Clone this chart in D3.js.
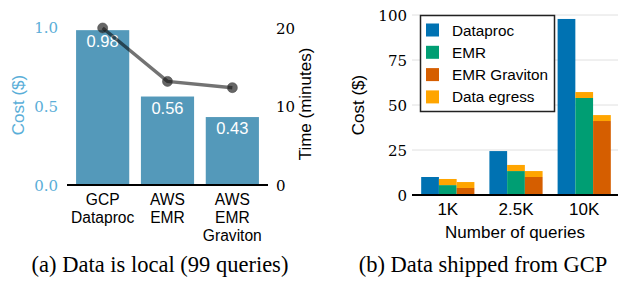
<!DOCTYPE html>
<html>
<head>
<meta charset="utf-8">
<script src="https://cdn.jsdelivr.net/npm/d3@7"></script>
<style>
  body { margin: 0; background: #fff; }
  svg { display: block; }
  .sans { font-family: "Liberation Sans", Arial, sans-serif; }
  .serif { font-family: "Liberation Serif", "Times New Roman", serif; }
  .num { font-family: "DejaVu Serif", serif; }
</style>
</head>
<body>
<div id="chart"></div>
<script>
// (a) data is local
var platforms = [["GCP", "Dataproc"], ["AWS", "EMR"], ["AWS", "EMR", "Graviton"]];
var platformKeys = ["gcp", "emr", "graviton"];
var costs = [0.98, 0.56, 0.43];
var times = [20.0, 13.2, 12.4];
var costTicks = [0, 0.5, 1.0];
var timeTicks = [0, 10, 20];

// (b) data shipped from GCP
var queryCounts = ["1K", "2.5K", "10K"];
var services = ["Dataproc", "EMR", "EMR Graviton"];
var computeCost = {
  "Dataproc":     [10.0, 24.4, 97.8],
  "EMR":          [5.5, 13.3, 53.9],
  "EMR Graviton": [3.9, 10.0, 41.1]
};
var egressCost = {
  "Dataproc":     [0, 0, 0],
  "EMR":          [3.4, 3.4, 3.3],
  "EMR Graviton": [3.3, 3.3, 3.3]
};
var shippedTicks = [0, 25, 50, 75, 100];
var legendItems = ["Dataproc", "EMR", "EMR Graviton", "Data egress"];
var colors = { "Dataproc": "#0072b2", "EMR": "#009e73", "EMR Graviton": "#d55e00", "Data egress": "#ffa500" };

var W = 618, H = 281;
var svg = d3.select('#chart').append('svg').attr('width', W).attr('height', H);

// ---------- left panel ----------
var costBlue = '#5aaed8';
var x1 = d3.scaleBand().domain(platformKeys).range([67, 268]).paddingInner(0.18).paddingOuter(0.14);
var yCost = d3.scaleLinear().domain([0, 1]).range([185, 27]);
var yTime = d3.scaleLinear().domain([0, 20]).range([185, 28]);

var left = svg.append('g');

left.selectAll('rect.bar')
  .data(costs)
  .enter().append('rect')
  .attr('class', 'bar')
  .attr('x', function(d, i) { return x1(platformKeys[i]); })
  .attr('y', function(d) { return yCost(d); })
  .attr('width', x1.bandwidth())
  .attr('height', function(d) { return yCost(0) - yCost(d); })
  .attr('fill', '#5499ba');

left.selectAll('text.val')
  .data(costs)
  .enter().append('text')
  .attr('class', 'sans')
  .attr('x', function(d, i) { return x1(platformKeys[i]) + x1.bandwidth() / 2; })
  .attr('y', function(d) { return yCost(d) + 17; })
  .attr('text-anchor', 'middle')
  .attr('fill', '#fff')
  .style('font-size', '16.5px')
  .text(function(d) { return d.toFixed(2); });

// baseline
left.append('line')
  .attr('x1', 67).attr('x2', 268)
  .attr('y1', yCost(0)).attr('y2', yCost(0))
  .attr('stroke', '#000').attr('stroke-width', 2);

// left axis
var axL = left.append('g').attr('transform', 'translate(60,0)')
  .call(d3.axisLeft(yCost).tickValues(costTicks).tickSize(0).tickPadding(2).tickFormat(d3.format('.1f')));
axL.select('.domain').remove();
axL.selectAll('text').attr('class', 'num').attr('fill', costBlue).style('font-size', '15px').attr('dy', '0.35em');

// right axis
var axR = left.append('g').attr('transform', 'translate(274,0)')
  .call(d3.axisRight(yTime).tickValues(timeTicks).tickSize(0).tickPadding(2));
axR.select('.domain').remove();
axR.selectAll('text').attr('class', 'num').attr('fill', '#000').style('font-size', '15px').attr('dy', '0.35em');

// x labels, one text per line
platforms.forEach(function(lines, i) {
  var cx = x1(platformKeys[i]) + x1.bandwidth() / 2;
  lines.forEach(function(s, j) {
    left.append('text').attr('class', 'sans')
      .attr('x', cx)
      .attr('y', 205 + j * 18)
      .attr('text-anchor', 'middle')
      .attr('fill', '#000')
      .style('font-size', '15.6px')
      .text(s);
  });
});

left.append('text').attr('class', 'sans')
  .attr('transform', 'translate(24,105) rotate(-90)')
  .attr('text-anchor', 'middle').attr('fill', costBlue).style('font-size', '17px')
  .text('Cost ($)');
left.append('text').attr('class', 'sans')
  .attr('transform', 'translate(311,104) rotate(-90)')
  .attr('text-anchor', 'middle').attr('fill', '#000').style('font-size', '17px')
  .text('Time (minutes)');

// time line
var timeLine = d3.line()
  .x(function(d, i) { return x1(platformKeys[i]) + x1.bandwidth() / 2; })
  .y(function(d) { return yTime(d); });
left.append('path')
  .datum(times)
  .attr('d', timeLine)
  .attr('fill', 'none')
  .attr('stroke', 'rgba(0,0,0,0.55)')
  .attr('stroke-width', 3.5);
left.selectAll('circle.t')
  .data(times)
  .enter().append('circle')
  .attr('cx', function(d, i) { return x1(platformKeys[i]) + x1.bandwidth() / 2; })
  .attr('cy', function(d) { return yTime(d); })
  .attr('r', 5)
  .attr('fill', 'rgba(20,20,20,0.65)')
  .attr('stroke', 'rgba(80,80,80,0.6)')
  .attr('stroke-width', 1);

left.append('text').attr('class', 'serif')
  .attr('x', 160).attr('y', 272)
  .attr('text-anchor', 'middle').attr('fill', '#000').style('font-size', '22.5px')
  .text('(a) Data is local (99 queries)');

// ---------- right panel ----------
var right = svg.append('g');
var x0 = d3.scaleBand().domain(queryCounts).range([413, 619]).paddingInner(0.22).paddingOuter(0.12);
var xs = d3.scaleBand().domain(services).range([0, x0.bandwidth()]);
var y2 = d3.scaleLinear().domain([0, 100]).range([195, 15]);

// grid
right.selectAll('line.grid')
  .data(shippedTicks.slice(1))
  .enter().append('line')
  .attr('x1', 412).attr('x2', 618)
  .attr('y1', function(d) { return y2(d); }).attr('y2', function(d) { return y2(d); })
  .attr('stroke', '#e0e0e0').attr('stroke-width', 1);

var ax2 = right.append('g').attr('transform', 'translate(409,0)')
  .call(d3.axisLeft(y2).tickValues(shippedTicks).tickSize(0).tickPadding(2));
ax2.select('.domain').remove();
ax2.selectAll('text').attr('class', 'num').attr('fill', '#000').style('font-size', '15px').attr('dy', '0.35em');

services.forEach(function(s) {
  var g = right.append('g');
  g.selectAll('rect.c')
    .data(computeCost[s])
    .enter().append('rect')
    .attr('x', function(d, i) { return x0(queryCounts[i]) + xs(s); })
    .attr('y', function(d) { return y2(d); })
    .attr('width', xs.bandwidth())
    .attr('height', function(d) { return y2(0) - y2(d); })
    .attr('fill', colors[s]);
  g.selectAll('rect.e')
    .data(egressCost[s])
    .enter().append('rect')
    .attr('x', function(d, i) { return x0(queryCounts[i]) + xs(s); })
    .attr('y', function(d, i) { return y2(computeCost[s][i] + d); })
    .attr('width', xs.bandwidth())
    .attr('height', function(d, i) { return y2(computeCost[s][i]) - y2(computeCost[s][i] + d); })
    .attr('fill', colors['Data egress']);
});

right.append('line')
  .attr('x1', 412).attr('x2', 618)
  .attr('y1', y2(0)).attr('y2', y2(0))
  .attr('stroke', '#000').attr('stroke-width', 2);

var axX = right.append('g').attr('transform', 'translate(0,' + y2(0) + ')')
  .call(d3.axisBottom(x0).tickSize(0).tickPadding(8));
axX.select('.domain').remove();
axX.selectAll('text').attr('class', 'sans').attr('fill', '#000').style('font-size', '17px');

right.append('text').attr('class', 'sans')
  .attr('x', 515).attr('y', 238)
  .attr('text-anchor', 'middle').attr('fill', '#000').style('font-size', '17px')
  .text('Number of queries');
right.append('text').attr('class', 'sans')
  .attr('transform', 'translate(364,105) rotate(-90)')
  .attr('text-anchor', 'middle').attr('fill', '#000').style('font-size', '17px')
  .text('Cost ($)');

// legend
var lg = right.append('g');
lg.append('rect')
  .attr('x', 420.5).attr('y', 15.5).attr('width', 134).attr('height', 96)
  .attr('fill', '#fff').attr('stroke', '#222').attr('stroke-width', 1.5);
lg.selectAll('rect.sw')
  .data(legendItems)
  .enter().append('rect')
  .attr('x', 426)
  .attr('y', function(d, i) { return 23.5 + i * 22.3; })
  .attr('width', 13).attr('height', 13)
  .attr('fill', function(d) { return colors[d]; });
lg.selectAll('text.lt')
  .data(legendItems)
  .enter().append('text')
  .attr('class', 'sans')
  .attr('x', 452)
  .attr('y', function(d, i) { return 35.5 + i * 22.3; })
  .attr('fill', '#000').style('font-size', '15.3px')
  .text(function(d) { return d; });

right.append('text').attr('class', 'serif')
  .attr('x', 483).attr('y', 272)
  .attr('text-anchor', 'middle').attr('fill', '#000').style('font-size', '22.5px')
  .text('(b) Data shipped from GCP');
</script>
</body>
</html>
